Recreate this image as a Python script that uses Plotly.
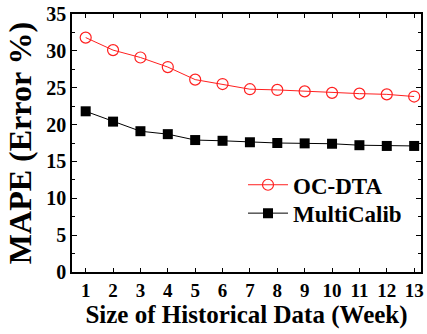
import plotly.graph_objects as go

weeks = list(range(1, 14))
oc_dta = [31.8, 30.1, 29.1, 27.8, 26.1, 25.5, 24.8, 24.7, 24.5, 24.3, 24.2, 24.1, 23.8]
multicalib = [21.8, 20.4, 19.1, 18.7, 17.9, 17.8, 17.6, 17.5, 17.45, 17.4, 17.2, 17.1, 17.1]

FONT = "Liberation Serif"

fig = go.Figure()
fig.add_trace(go.Scatter(
    x=weeks, y=oc_dta, name="OC-DTA", mode="lines+markers", legend="legend",
    line=dict(color="#ff2020", width=1),
    marker=dict(symbol="circle-open", size=11, color="#ff2020", line=dict(width=1.2)),
))
fig.add_trace(go.Scatter(
    x=weeks, y=multicalib, name="MultiCalib", mode="lines+markers", legend="legend2",
    line=dict(color="black", width=1),
    marker=dict(symbol="square", size=10, color="black"),
))

leg_common = dict(
    xanchor="left", yanchor="middle",
    font=dict(family=FONT, size=23, color="black", weight="bold"),
    bgcolor="rgba(0,0,0,0)", itemwidth=40,
)

fig.update_layout(
    width=427, height=334,
    margin=dict(l=72, r=3, t=10, b=62),
    plot_bgcolor="white", paper_bgcolor="white",
    font=dict(family=FONT, color="black"),
    legend=dict(x=0.49, y=0.338, **leg_common),
    legend2=dict(x=0.49, y=0.228, **leg_common),
    showlegend=True,
)
fig.update_xaxes(
    range=[0.5, 13.25], tickmode="array", tickvals=weeks,
    ticks="inside", ticklen=4, tickwidth=1, tickcolor="black",
    showline=True, linecolor="black", linewidth=1.5, mirror="ticks",
    showgrid=False, zeroline=False, ticklabeloverflow="allow",
    tickfont=dict(family=FONT, size=19, color="black", weight="bold"),
    title=dict(text="Size of Historical Data (Week)", standoff=6,
               font=dict(family=FONT, size=25, color="black", weight="bold")),
)
fig.update_yaxes(
    range=[0, 35], tickmode="array", tickvals=[0, 5, 10, 15, 20, 25, 30, 35],
    ticks="inside", ticklen=5, tickwidth=1, tickcolor="black",
    minor=dict(ticks="inside", ticklen=3, tickwidth=1, tickcolor="black", dtick=2.5, tick0=0),
    showline=True, linecolor="black", linewidth=1.5, mirror="ticks",
    showgrid=False, zeroline=False, ticklabeloverflow="allow",
    tickfont=dict(family=FONT, size=20, color="black", weight="bold"),
    title=dict(text="MAPE (Error %)", standoff=5,
               font=dict(family=FONT, size=32, color="black", weight="bold")),
)

fig.write_html("out.html")
